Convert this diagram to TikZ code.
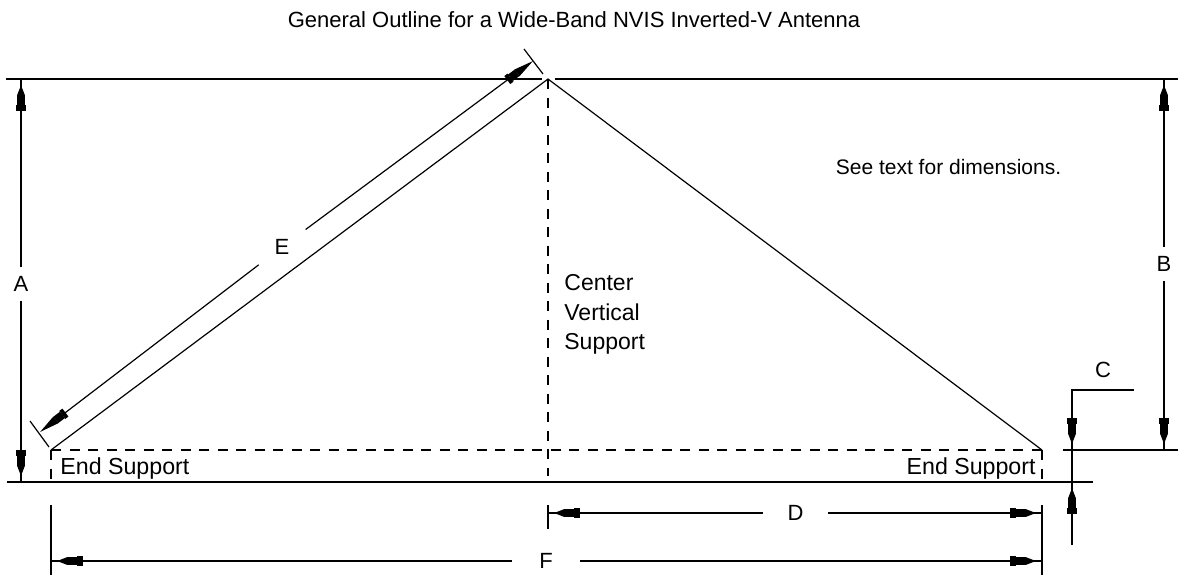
\documentclass[tikz,border=0pt]{standalone}
\usepackage{fontspec}
\setmainfont{Liberation Sans}
\usetikzlibrary{arrows.meta}
\tikzset{
    solidline/.style={line width=0.75pt},
    wireline/.style={line width=0.6pt},
    dashline/.style={line width=0.75pt, dash pattern=on 5pt off 4.25pt},
    tickline/.style={line width=0.6pt},
    dimline/.style={line width=0.75pt, -{Rectangle[length=3pt,width=5pt] Rectangle[length=5pt,width=3.6pt] Triangle[length=5pt,width=3.6pt] Rectangle[length=3pt,width=0.75pt]}},
    slantline/.style={line width=0.6pt, -{Rectangle[length=2pt,width=5pt] Rectangle[length=4pt,width=4pt] Triangle[length=10pt,width=4pt]}},
    dimlabel/.style={circle, inner sep=0pt, font=\fontsize{11}{11}\selectfont},
    plaintext/.style={inner sep=0pt, font=\fontsize{11}{11}\selectfont},
    supporttext/.style={inner sep=0pt, font=\fontsize{11.6}{11.6}\selectfont},
}
\begin{document}
\begin{tikzpicture}[x=0.5pt, y=-0.5pt]
    \useasboundingbox (0,0) rectangle (1178,575);
    %%Anten
    \coordinate (apex) at (548,79);
    \coordinate (endL) at (51,450);
    \coordinate (endR) at (1042,450);
    \draw[wireline] (endL) -- (apex) -- (endR);
    %%Cot va duong ngang
    \draw[dashline] (apex) -- (548,476);
    \draw[dashline] (endL) -- (endR);
    \draw[dashline] (endL) -- (51,480);
    \draw[dashline] (endR) -- (1042,480);
    \draw[solidline] (6,79) -- (542,79);
    \draw[solidline] (555,79) -- (1178,79);
    \draw[solidline] (7,482) -- (1093,482);
    \draw[solidline] (1063,450) -- (1178,450);
    %%Kich thuoc A, B
    \node[dimlabel, minimum size=16.5pt] (dimA) at (21,284) {A};
    \draw[dimline] (dimA) -- (21,79);
    \draw[dimline] (dimA) -- (21,482);
    \node[dimlabel, minimum size=16.5pt] (dimB) at (1164,264) {B};
    \draw[dimline] (dimB) -- (1164,79);
    \draw[dimline] (dimB) -- (1164,450);
    %%Kich thuoc C
    \node[dimlabel] (dimC) at (1103,370) {C};
    \coordinate (cornerC) at (1072,390);
    \draw[solidline] (1134,390) -- (cornerC) -- (1072,545);
    \draw[dimline] (cornerC) -- (1072,450);
    \draw[dimline] (1072,545) -- (1072,482);
    %%Kich thuoc D, F
    \draw[solidline] (548,505) -- (548,529);
    \draw[solidline] (1042,505) -- (1042,575);
    \draw[solidline] (51,505) -- (51,575);
    \node[dimlabel, minimum size=32.5pt] (dimD) at (795.5,513) {D};
    \draw[dimline] (dimD) -- (548,513);
    \draw[dimline] (dimD) -- (1042,513);
    \node[dimlabel, minimum size=34pt] (dimF) at (546,561) {F};
    \draw[dimline] (dimF) -- (51,561);
    \draw[dimline] (dimF) -- (1042,561);
    %%Kich thuoc E
    \draw[tickline] (30,421) -- (49,447);
    \draw[tickline] (524,49) -- (543,74);
    \node[dimlabel, minimum size=29pt] (dimE) at (282,247) {E};
    \draw[slantline] (dimE) -- (533,61);
    \draw[slantline] (dimE) -- (40,432);
    %%Chu
    \node[plaintext] (title) at (574,20) {General Outline for a Wide-Band NVIS Inverted-V Antenna};
    \node[plaintext, font=\fontsize{10.5}{10.5}\selectfont] (note) at (948.5,167) {See text for dimensions.};
    \node[supporttext, align=left, anchor=west, font=\fontsize{11.5}{14.75}\selectfont] (center) at (564,314.5) {Center\\Vertical\\Support};
    \node[supporttext, anchor=west] (supportL) at (60,468) {End Support};
    \node[supporttext, anchor=east] (supportR) at (1036,468) {End Support};
\end{tikzpicture}
\end{document}
